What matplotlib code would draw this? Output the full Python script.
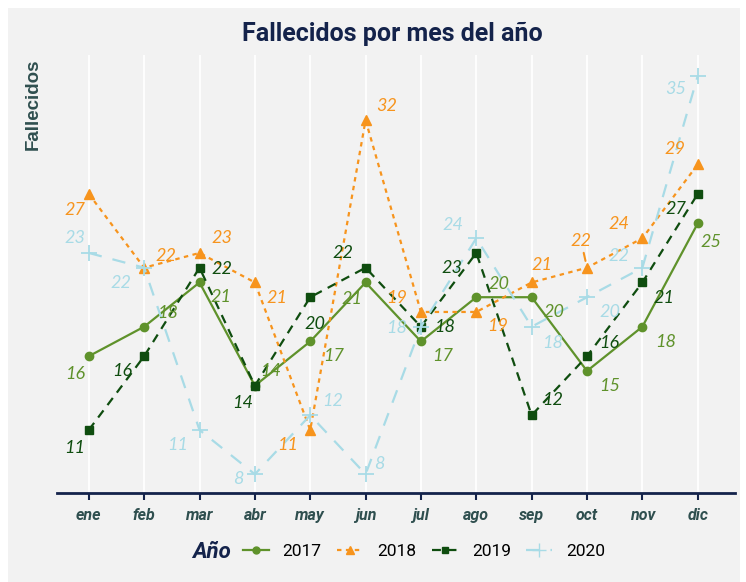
import matplotlib.pyplot as plt
from matplotlib.patches import Rectangle
from matplotlib.lines import Line2D

# Datos
meses = ["ene", "feb", "mar", "abr", "may", "jun", "jul", "ago", "sep", "oct", "nov", "dic"]
anios = ["2017", "2018", "2019", "2020"]
f2017 = [16, 18, 21, 14, 17, 21, 17, 20, 20, 15, 18, 25]
f2018 = [27, 22, 23, 21, 11, 32, 19, 19, 21, 22, 24, 29]
f2019 = [11, 16, 22, 14, 20, 22, 18, 23, 12, 16, 21, 27]
f2020 = [23, 22, 11, 8, 12, 8, 18, 24, 18, 20, 22, 35]

# Estilos por serie
colores = ["#5f922b", "#f7941d", "#0f4d0f", "#a8dbe6"]
marcadores = ["o", "^", "s", "+"]
lineas = ["-", (0, (2, 2)), (0, (4, 3)), (0, (6, 5))]
tam_marcador = [6, 7, 6, 11]

# desplazamiento de etiquetas (pixeles, +y hacia arriba)
desp = [
    [(-14, -18), (23, 14), (21, -15), (16, 15), (23, -15), (-14, -17), (22, -15), (23, 13), (22, -15), (23, -15), (23, -15), (13, -19)],
    [(-14, -16), (22, 12), (22, 15), (22, -16), (-23, -15), (21, 14), (-24, 14), (21, -14), (10, 17), (-6, 27), (-23, 14), (-23, 15)],
    [(-14, -18), (-22, -15), (22, -1), (-12, -17), (5, -27), (-23, 15), (24, 0), (-24, -15), (21, 15), (22, 13), (22, -16), (-22, -15)],
    [(-14, 15), (-23, -15), (-22, -15), (-17, -5), (22, 14), (14, 10), (-24, -1), (-23, 13), (21, -16), (23, -15), (-23, 12), (-22, -13)],
]

series = [f2017, f2018, f2019, f2020]
x = list(range(len(meses)))

fig = plt.figure(figsize=(7.46, 5.82), dpi=100, facecolor="white")
fig.patches.append(Rectangle((8 / 746, 0), 732 / 746, 574 / 582, transform=fig.transFigure,
                             facecolor="#f2f2f2", edgecolor="none", zorder=-10))
ax = fig.add_axes([0.076, 0.153, 0.909, 0.752])
ax.set_facecolor("#f2f2f2")

for i, vals in enumerate(series):
    ax.plot(x, vals, color=colores[i], linestyle=lineas[i], linewidth=1.6,
            marker=marcadores[i], markersize=tam_marcador[i], markeredgewidth=1.3 if i == 3 else 1,
            label=anios[i], zorder=3)
    for j, v in enumerate(vals):
        dx, dy = desp[i][j]
        arrow = None
        if i == 1 and j == 9:
            arrow = dict(arrowstyle="-", color=colores[i], lw=1.5, shrinkA=1, shrinkB=5)
        ax.annotate(str(v), (j, v), xytext=(dx, dy), textcoords="offset pixels",
                    ha="center", va="center", fontsize=13, fontstyle="italic",
                    family="Lato", color=colores[i], arrowprops=arrow, zorder=4)

ax.set_xlim(-0.58, 11.67)
ax.set_ylim(6.73, 36.4)
ax.set_xticks(x)
ax.set_xticklabels(meses, fontsize=11.5, fontweight="bold", fontstyle="italic",
                   family="Roboto", color="#2f4f4f")
ax.set_yticks([])
ax.grid(axis="x", color="white", linewidth=1.3)
ax.set_axisbelow(True)
for s in ["top", "right", "left"]:
    ax.spines[s].set_visible(False)
ax.spines["bottom"].set_color("#14234b")
ax.spines["bottom"].set_linewidth(2)
ax.tick_params(axis="x", color="#14234b", length=5, width=1.5, pad=6)

fig.text(392 / 746, 1 - 34 / 582, "Fallecidos por mes del año", ha="center", va="center",
         fontsize=18, fontweight="bold", family="Roboto", color="#14234b")
fig.text(33 / 746, 1 - 58 / 582, "Fallecidos", rotation=90, ha="center", va="top",
         fontsize=13.5, fontweight="bold", family="Liberation Sans", color="#2f4f4f")

# Leyenda
handles = [Line2D([], [], color=colores[i], linestyle=lineas[i], linewidth=1.6,
                  marker=marcadores[i], markersize=tam_marcador[i] - 1) for i in range(4)]
leg = fig.legend(handles, anios, loc="center", bbox_to_anchor=(424 / 746, 1 - 551 / 582), ncol=4,
                 frameon=False, handlelength=1.5, handletextpad=0.8, columnspacing=0.9,
                 prop={"family": "Roboto", "size": 12.5})
fig.text(212 / 746, 1 - 552 / 582, "Año", ha="center", va="center", fontsize=16,
         fontweight="bold", fontstyle="italic", family="Roboto", color="#14234b")

fig.savefig("out.png", dpi=100, facecolor="white")
